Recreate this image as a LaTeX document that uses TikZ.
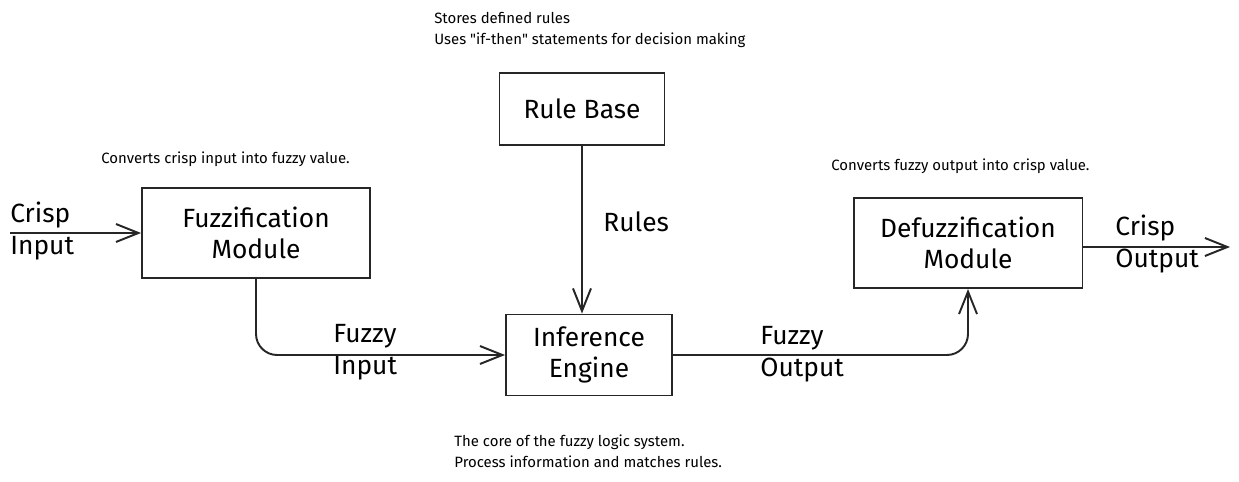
\documentclass[tikz,border=0pt]{standalone}
\usepackage{fontspec}
\setmainfont{Fira Sans}
\usetikzlibrary{arrows.meta}
\begin{document}
\begin{tikzpicture}[x=0.02cm,y=-0.02cm]
	\tikzstyle{module}=[rectangle,draw=black!85,line width=1.1pt,align=center,font=\fontsize{15}{18}\selectfont]
	\tikzstyle{label}=[align=left,font=\fontsize{15}{18}\selectfont,inner sep=0pt]
	\tikzstyle{note}=[align=left,anchor=west,font=\fontsize{8.5}{12}\selectfont,inner sep=0pt]
	\tikzstyle{edge}=[draw=black!85,line width=1.1pt,rounded corners=12pt,-{Straight Barb[length=4.5mm,width=3.6mm]}]
	\useasboundingbox (0,0) rectangle (1239,482);
	\begin{scope}
		\node [module,minimum width=3.3cm,minimum height=1.44cm] (rules) at (582,109) {Rule Base};
		\node [module,minimum width=4.56cm,minimum height=1.8cm] (fuzz) at (256,233) {Fuzzification\\Module};
		\node [module,minimum width=3.32cm,minimum height=1.62cm] (infer) at (589,355) {Inference\\Engine};
		\node [module,minimum width=4.58cm,minimum height=1.8cm] (defuzz) at (968,243) {Defuzzification\\Module};

		\coordinate (cin) at (10,233);
		\coordinate (cout) at (1230,247);

		\path[edge] (cin) -- (fuzz.west);
		\path[edge] (rules.south) -- (rules.south |- infer.north);
		\path[edge] (fuzz.south) |- (infer.west);
		\path[edge] (infer.east) -| (defuzz.south);
		\path[edge] (defuzz.east |- cout) -- (cout);

		\node [label,anchor=west] (lcin) at (10,231) {Crisp\\Input};
		\node [label,anchor=west] (lrules) at (603,222) {Rules};
		\node [label,anchor=west] (lfin) at (333,352) {Fuzzy\\Input};
		\node [label,anchor=west] (lfout) at (760,354) {Fuzzy\\Output};
		\node [label,anchor=west] (lcout) at (1115,244) {Crisp\\Output};

		\node [note] (nrules) at (434,30) {Stores defined rules\\Uses \textquotedbl if-then\textquotedbl{} statements for decision making};
		\node [note] (nfuzz) at (101,159) {Converts crisp input into fuzzy value.};
		\node [note] (ndefuzz) at (831,166) {Converts fuzzy output into crisp value.};
		\node [note] (ninfer) at (454,451) {The core of the fuzzy logic system.\\Process information and matches rules.};
	\end{scope}
\end{tikzpicture}
\end{document}
